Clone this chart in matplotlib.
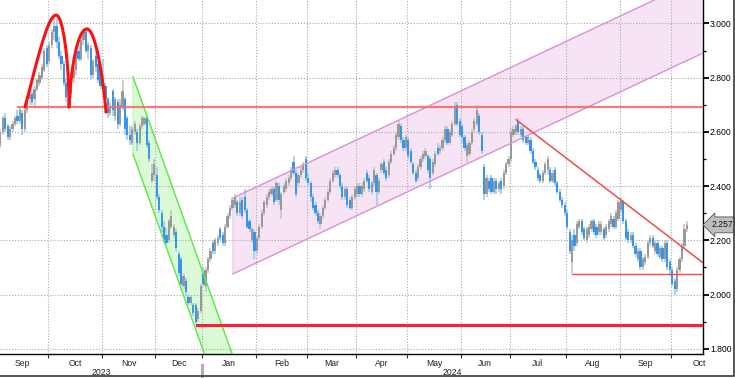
import numpy as np
import pandas as pd
import matplotlib
matplotlib.use('Agg')
import matplotlib.pyplot as plt
from matplotlib.patches import Polygon, PathPatch
from matplotlib.lines import Line2D
from matplotlib.path import Path
from matplotlib.ticker import MultipleLocator, FormatStrFormatter
from matplotlib.transforms import blended_transform_factory

plt.rcParams['font.family'] = ['Liberation Sans', 'DejaVu Sans']

# trading calendar (TARGET holidays removed)
holidays = ['2023-12-25', '2023-12-26', '2024-01-01', '2024-03-29', '2024-04-01', '2024-05-01']
days = pd.bdate_range('2023-09-01', '2024-10-31')
days = days[~days.isin(pd.to_datetime(holidays))]

# daily candles (open, high, low, close), one list per month
sep23 = [(2.50,2.57,2.48,2.55),(2.55,2.61,2.54,2.60),(2.60,2.66,2.59,2.65),(2.65,2.67,2.60,2.61),
         (2.62,2.63,2.57,2.58),(2.58,2.62,2.57,2.61),(2.61,2.64,2.60,2.63),(2.63,2.66,2.62,2.65),
         (2.66,2.68,2.63,2.64),(2.64,2.69,2.63,2.68),(2.67,2.68,2.59,2.61),(2.61,2.69,2.60,2.68),
         (2.68,2.73,2.67,2.72),(2.72,2.75,2.70,2.74),(2.74,2.75,2.70,2.71),(2.72,2.77,2.69,2.76),
         (2.76,2.80,2.75,2.79),(2.78,2.82,2.77,2.81),(2.80,2.85,2.79,2.84),(2.83,2.91,2.82,2.90),
         (2.91,2.92,2.84,2.85)]
oct23 = [(2.86,2.93,2.85,2.92),(2.92,2.98,2.91,2.97),(2.97,3.03,2.94,2.99),(2.99,3.02,2.91,2.93),
         (2.93,2.95,2.87,2.88),(2.88,2.90,2.83,2.85),(2.85,2.86,2.77,2.78),(2.78,2.80,2.71,2.73),
         (2.73,2.76,2.70,2.75),(2.74,2.81,2.72,2.80),(2.80,2.84,2.78,2.83),(2.83,2.91,2.81,2.90),
         (2.90,2.92,2.86,2.87),(2.87,2.95,2.86,2.94),(2.94,2.98,2.92,2.97),(2.97,2.98,2.89,2.90),
         (2.90,2.93,2.87,2.92),(2.91,2.92,2.79,2.81),(2.81,2.87,2.80,2.86),(2.88,2.91,2.82,2.84),
         (2.85,2.86,2.78,2.79),(2.84,2.85,2.76,2.77)]
nov23 = [(2.79,2.87,2.76,2.78),(2.77,2.78,2.71,2.72),(2.72,2.73,2.65,2.67),(2.67,2.71,2.66,2.69),
         (2.75,2.76,2.66,2.68),(2.66,2.73,2.64,2.72),(2.71,2.72,2.61,2.63),(2.63,2.72,2.62,2.70),
         (2.69,2.79,2.68,2.75),(2.72,2.73,2.59,2.61),(2.65,2.66,2.57,2.59),(2.59,2.62,2.55,2.57),
         (2.56,2.62,2.55,2.61),(2.60,2.64,2.59,2.63),(2.60,2.61,2.53,2.56),(2.56,2.63,2.55,2.62),
         (2.62,2.66,2.61,2.65),(2.63,2.66,2.62,2.65),(2.65,2.66,2.54,2.55),(2.56,2.57,2.49,2.50),
         (2.42,2.48,2.41,2.45),(2.44,2.50,2.42,2.48)]
dec23 = [(2.44,2.47,2.35,2.36),(2.36,2.37,2.30,2.31),(2.30,2.31,2.23,2.25),(2.25,2.27,2.19,2.20),
         (2.22,2.25,2.18,2.19),(2.20,2.28,2.19,2.27),(2.25,2.31,2.24,2.29),(2.22,2.26,2.21,2.25),
         (2.23,2.24,2.16,2.17),(2.15,2.16,2.07,2.08),(2.13,2.14,2.03,2.04),(2.03,2.08,2.02,2.07),
         (2.05,2.06,2.00,2.01),(1.99,2.00,1.96,1.97),(1.97,2.00,1.96,1.99),(1.96,1.97,1.92,1.93),
         (1.96,1.97,1.89,1.90),(1.91,1.95,1.90,1.94),(1.94,2.04,1.93,2.03)]
jan24 = [(2.08,2.10,2.03,2.04),(2.03,2.10,2.01,2.09),(2.09,2.14,2.08,2.13),(2.13,2.17,2.12,2.16),
         (2.19,2.20,2.15,2.16),(2.16,2.21,2.15,2.20),(2.19,2.22,2.18,2.21),(2.24,2.25,2.20,2.21),
         (2.22,2.23,2.18,2.19),(2.19,2.26,2.18,2.25),(2.25,2.30,2.24,2.29),(2.29,2.33,2.28,2.32),
         (2.32,2.36,2.31,2.35),(2.33,2.37,2.32,2.36),(2.34,2.35,2.29,2.30),(2.30,2.36,2.29,2.34),
         (2.35,2.36,2.28,2.29),(2.36,2.39,2.30,2.31),(2.31,2.32,2.24,2.25),(2.27,2.28,2.23,2.24),
         (2.20,2.25,2.19,2.24),(2.23,2.24,2.13,2.16)]
feb24 = [(2.16,2.22,2.15,2.21),(2.21,2.26,2.20,2.25),(2.25,2.31,2.24,2.30),(2.30,2.35,2.29,2.34),
         (2.33,2.37,2.32,2.36),(2.36,2.39,2.35,2.38),(2.37,2.40,2.36,2.39),(2.39,2.40,2.33,2.34),
         (2.35,2.42,2.34,2.41),(2.40,2.41,2.33,2.35),(2.31,2.38,2.28,2.37),(2.38,2.41,2.37,2.40),
         (2.39,2.43,2.38,2.42),(2.41,2.44,2.40,2.43),(2.43,2.47,2.42,2.46),(2.49,2.51,2.44,2.45),
         (2.45,2.46,2.36,2.37),(2.41,2.45,2.40,2.44),(2.44,2.47,2.43,2.46),(2.46,2.49,2.45,2.48),
         (2.50,2.51,2.42,2.43)]
mar24 = [(2.43,2.45,2.40,2.41),(2.41,2.42,2.34,2.36),(2.36,2.37,2.31,2.32),(2.33,2.34,2.29,2.30),
         (2.30,2.31,2.26,2.27),(2.26,2.30,2.24,2.29),(2.29,2.33,2.28,2.32),(2.32,2.36,2.31,2.35),
         (2.35,2.39,2.34,2.38),(2.38,2.43,2.37,2.42),(2.42,2.46,2.41,2.45),(2.44,2.47,2.43,2.46),
         (2.46,2.47,2.43,2.44),(2.44,2.45,2.39,2.40),(2.40,2.41,2.35,2.36),(2.36,2.40,2.35,2.39),
         (2.39,2.40,2.32,2.33),(2.35,2.36,2.31,2.32),(2.32,2.37,2.31,2.36),(2.36,2.40,2.35,2.39)]
apr24 = [(2.37,2.41,2.36,2.40),(2.40,2.41,2.36,2.37),(2.37,2.41,2.36,2.40),(2.39,2.43,2.38,2.42),
         (2.45,2.46,2.41,2.42),(2.43,2.44,2.38,2.39),(2.38,2.42,2.37,2.41),(2.41,2.47,2.40,2.46),
         (2.44,2.45,2.33,2.38),(2.38,2.43,2.37,2.42),(2.46,2.49,2.45,2.48),(2.49,2.50,2.44,2.45),
         (2.46,2.47,2.42,2.43),(2.44,2.50,2.43,2.49),(2.49,2.53,2.48,2.52),(2.52,2.55,2.51,2.54),
         (2.54,2.60,2.53,2.59),(2.58,2.64,2.57,2.63),(2.62,2.63,2.56,2.57),(2.57,2.58,2.53,2.54),
         (2.54,2.59,2.53,2.58)]
may24 = [(2.57,2.58,2.50,2.51),(2.53,2.54,2.48,2.49),(2.48,2.49,2.44,2.45),(2.45,2.46,2.41,2.42),
         (2.43,2.48,2.42,2.47),(2.47,2.51,2.46,2.50),(2.50,2.53,2.49,2.52),(2.51,2.54,2.50,2.53),
         (2.51,2.52,2.45,2.46),(2.50,2.51,2.39,2.43),(2.45,2.50,2.44,2.49),(2.48,2.53,2.47,2.52),
         (2.54,2.56,2.51,2.52),(2.53,2.55,2.52,2.54),(2.54,2.58,2.53,2.57),(2.57,2.62,2.56,2.61),
         (2.61,2.62,2.55,2.56),(2.56,2.61,2.55,2.60),(2.59,2.64,2.58,2.63),(2.63,2.71,2.62,2.69),
         (2.70,2.71,2.62,2.63),(2.64,2.65,2.58,2.59)]
jun24 = [(2.62,2.63,2.56,2.58),(2.58,2.59,2.53,2.54),(2.51,2.56,2.49,2.55),(2.52,2.57,2.51,2.56),
         (2.56,2.61,2.55,2.60),(2.61,2.65,2.60,2.64),(2.63,2.70,2.62,2.68),(2.66,2.67,2.59,2.60),
         (2.59,2.60,2.52,2.53),(2.47,2.48,2.35,2.37),(2.37,2.44,2.36,2.43),(2.42,2.43,2.38,2.39),
         (2.43,2.44,2.37,2.38),(2.38,2.43,2.37,2.42),(2.42,2.43,2.37,2.39),(2.39,2.42,2.38,2.41),
         (2.42,2.43,2.37,2.39),(2.40,2.46,2.39,2.45),(2.45,2.49,2.44,2.48),(2.48,2.51,2.47,2.50)]
jul24 = [(2.50,2.61,2.49,2.60),(2.59,2.62,2.58,2.61),(2.60,2.63,2.59,2.62),(2.64,2.65,2.59,2.60),
         (2.59,2.62,2.58,2.61),(2.61,2.62,2.56,2.57),(2.58,2.59,2.55,2.56),(2.56,2.59,2.55,2.58),
         (2.57,2.58,2.52,2.53),(2.53,2.54,2.48,2.49),(2.49,2.50,2.46,2.47),(2.46,2.47,2.42,2.43),
         (2.44,2.45,2.41,2.42),(2.42,2.46,2.41,2.45),(2.45,2.49,2.44,2.48),(2.46,2.51,2.44,2.50),
         (2.46,2.47,2.41,2.42),(2.42,2.46,2.41,2.45),(2.46,2.47,2.40,2.41),(2.41,2.42,2.37,2.38),
         (2.38,2.39,2.34,2.35),(2.35,2.36,2.32,2.33),(2.33,2.34,2.29,2.30)]
aug24 = [(2.30,2.31,2.24,2.25),(2.23,2.24,2.15,2.16),(2.12,2.22,2.08,2.20),(2.22,2.24,2.16,2.18),
         (2.19,2.27,2.18,2.26),(2.25,2.28,2.24,2.27),(2.27,2.28,2.22,2.23),(2.24,2.25,2.20,2.21),
         (2.20,2.25,2.19,2.24),(2.22,2.26,2.21,2.25),(2.24,2.28,2.23,2.27),(2.27,2.28,2.22,2.23),
         (2.25,2.26,2.21,2.22),(2.23,2.27,2.22,2.26),(2.23,2.27,2.22,2.26),(2.24,2.25,2.20,2.21),
         (2.22,2.26,2.21,2.25),(2.24,2.28,2.23,2.27),(2.26,2.30,2.25,2.29),(2.28,2.29,2.24,2.25),
         (2.25,2.31,2.24,2.30),(2.28,2.35,2.27,2.34)]
sep24 = [(2.31,2.36,2.30,2.35),(2.34,2.35,2.26,2.27),(2.27,2.28,2.20,2.21),(2.23,2.24,2.19,2.20),
         (2.20,2.23,2.19,2.22),(2.22,2.23,2.17,2.18),(2.18,2.19,2.14,2.15),(2.13,2.17,2.12,2.16),
         (2.16,2.17,2.09,2.10),(2.10,2.14,2.09,2.13),(2.12,2.15,2.11,2.14),(2.14,2.20,2.13,2.19),
         (2.19,2.22,2.18,2.21),(2.21,2.22,2.17,2.18),(2.16,2.20,2.15,2.19),(2.19,2.20,2.14,2.15),
         (2.14,2.18,2.13,2.17),(2.17,2.18,2.12,2.13),(2.13,2.20,2.12,2.19),(2.19,2.20,2.09,2.10),
         (2.12,2.13,2.07,2.09)]
oct24 = [(2.09,2.10,2.03,2.04),(2.05,2.06,2.00,2.02),(2.02,2.10,2.01,2.09),(2.09,2.14,2.08,2.13),
         (2.13,2.19,2.12,2.18),(2.18,2.26,2.17,2.24),(2.24,2.27,2.23,2.257)]

# drawn studies, in (trading-day index, yield)
resistance = (8.2, 2.692)          # start, level
major_support = (81.5, 1.887)
minor_support = (235.0, 2.076)
falling_line = [(212.1, 2.645), (288.6, 2.117)]
up_channel = dict(start=96.2, upper=2.356, lower=2.076, slope=0.004237)
down_channel = dict(start=55.3, upper=2.803, lower=2.518, slope=-0.0252)
arc1 = [(11.09, 2.692), (15.18, 2.828), (20.09, 3.031), (23.78, 3.031),
        (26.64, 3.031), (29.10, 2.865), (29.10, 2.692)]
arc2 = [(29.10, 2.692), (29.92, 2.847), (32.78, 2.980), (36.47, 2.980),
        (39.74, 2.980), (43.02, 2.810), (44.24, 2.673)]

months = [sep23, oct23, nov23, dec23, jan24, feb24, mar24, apr24, may24, jun24, jul24, aug24, sep24, oct24]
ohlc = np.array([row for m in months for row in m])
o, h, l, c = ohlc.T
n = len(ohlc)
idx = np.arange(n)

xmin, xmax = 0.855, 288.6
ymin, ymax = 1.7805, 3.0867
fs = 6.2

fig = plt.figure(figsize=(7.35, 3.78), dpi=100)
ax = fig.add_axes([0, 24/378, 703/735, 354/378])
ax.set_xlim(xmin, xmax)
ax.set_ylim(ymin, ymax)

# channels
s = up_channel['start']
xs = np.array([s, xmax + 5])
up_u = up_channel['upper'] + up_channel['slope']*(xs - s)
up_l = up_channel['lower'] + up_channel['slope']*(xs - s)
ax.add_patch(Polygon([(xs[0], up_u[0]), (xs[1], up_u[1]), (xs[1], up_l[1]), (xs[0], up_l[0])],
                     closed=True, fc='#f6e4f4', ec='#e3bde3', lw=0.6, zorder=1))
ax.plot(xs, up_u, color='#d896d8', lw=1.0, zorder=4)
ax.plot(xs, up_l, color='#d896d8', lw=1.0, zorder=4)

s = down_channel['start']
xs = np.array([s, s + 60])
dn_u = down_channel['upper'] + down_channel['slope']*(xs - s)
dn_l = down_channel['lower'] + down_channel['slope']*(xs - s)
ax.add_patch(Polygon([(xs[0], dn_u[0]), (xs[1], dn_u[1]), (xs[1], dn_l[1]), (xs[0], dn_l[0])],
                     closed=True, fc='#dafbd6', ec='#a8f0a0', lw=0.6, zorder=1))
ax.plot(xs, dn_u, color='#5fe84a', lw=1.0, zorder=4)
ax.plot(xs, dn_l, color='#5fe84a', lw=1.0, zorder=4)

# candles
up = c >= o
body_col = np.where(up, '#999999', '#3896ea')
wick_col = np.where(up, '#c6c6c6', '#9ccbf5')
ax.vlines(idx, l, h, colors=wick_col, lw=1.2, zorder=2)
height = np.where(np.abs(c - o) < 0.004, 0.004, np.abs(c - o))
ax.bar(idx, height, bottom=np.minimum(o, c), width=0.9, color=body_col, lw=0, zorder=3)

# horizontal levels and trend line
ax.plot([resistance[0], xmax], [resistance[1]]*2, color='#ef6f6f', lw=1.6, alpha=0.9, zorder=4)
ax.plot([major_support[0], xmax], [major_support[1]]*2, color='#ff1c3c', lw=2.2, zorder=4)
ax.plot([minor_support[0], xmax], [minor_support[1]]*2, color='#f24a4a', lw=1.0, zorder=4)
ax.plot(*zip(*falling_line), color='#f24a4a', lw=1.1, zorder=4)

# double top arcs
for arc in (arc1, arc2):
    codes = [Path.MOVETO] + [Path.CURVE4]*6
    ax.add_patch(PathPatch(Path(arc, codes), fc='none', ec='#ff1010', lw=2.2, zorder=5,
                           capstyle='round'))

# month grid / ticks
starts = [i for i in range(1, len(days)) if days[i].month != days[i-1].month]
bounds = [i - 0.5 for i in starts]
ax.set_xticks(bounds)
ax.set_xticklabels([])
ax.tick_params(axis='x', direction='out', length=3, width=0.8, color='#333333')

ax.yaxis.tick_right()
ax.yaxis.set_major_locator(MultipleLocator(0.2))
ax.yaxis.set_minor_locator(MultipleLocator(0.1))
ax.yaxis.set_major_formatter(FormatStrFormatter('%.3f'))
ax.tick_params(axis='y', which='major', direction='out', length=4, width=1.3, labelsize=fs, pad=1)
ax.tick_params(axis='y', which='minor', direction='out', length=2, width=0.9)
ax.grid(True, which='major', color='#a8a8a8', lw=0.8, ls=(0, (1, 1.6)))

for sp in ['left', 'top']:
    ax.spines[sp].set_visible(False)
ax.spines['right'].set_linewidth(1.0)
ax.spines['bottom'].set_linewidth(1.0)

trans = blended_transform_factory(ax.transData, ax.transAxes)
edges = [0] + starts + [len(days)]
for a, b in zip(edges[:-1], edges[1:]):
    mid = (a + b - 1) / 2
    if xmin - 5 < mid < xmax + 3:
        ax.text(mid, -0.027, days[a].strftime('%b'), transform=trans, ha='center', va='center',
                fontsize=fs, color='#222222')

years = days.year.values
for yr in (2023, 2024):
    sel = np.where(years == yr)[0]
    lo, hi = max(sel[0] - 0.5, xmin), min(sel[-1] + 0.5, xmax)
    ax.text((lo + hi) / 2, -0.053, str(yr), transform=trans, ha='center', va='center',
            fontsize=fs, color='#222222')
jan = [i for i in starts if days[i].month == 1][0] - 0.5
ax.plot([jan, jan], [-0.031, -0.068], transform=trans, color='#b0b0b0', lw=2.2, clip_on=False)

# last price tag
tag = blended_transform_factory(ax.transAxes, ax.transData)
ax.text(1.028, c[-1], f'{c[-1]:.3f}', transform=tag, ha='center', va='center', fontsize=fs,
        color='#111111', zorder=6,
        bbox=dict(boxstyle='larrow,pad=0.4', fc='#bdbdbd', ec='#555555', lw=0.6))

# outer frame: bottom and right edges
fig.lines.append(Line2D([0, 0.998, 0.998], [0.004, 0.004, 1.0], transform=fig.transFigure,
                        color='#3a3a3a', lw=1.2))

fig.savefig('out.png', dpi=100)
